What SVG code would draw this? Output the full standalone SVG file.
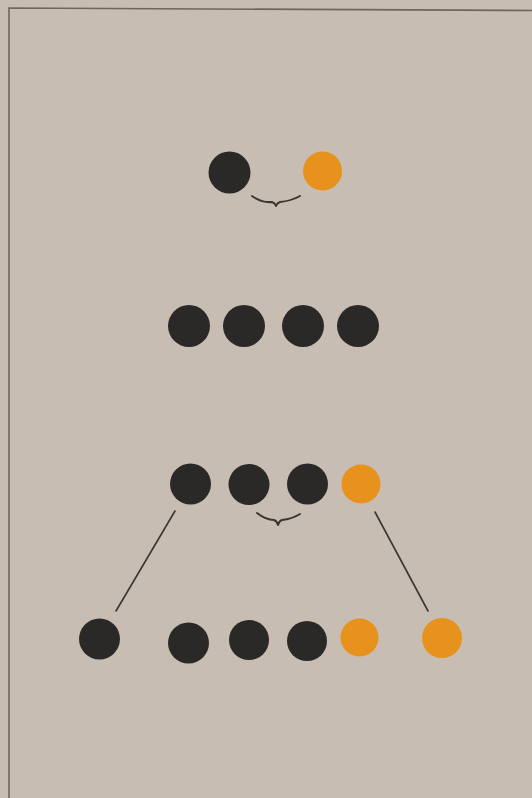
<svg xmlns="http://www.w3.org/2000/svg" width="532" height="798" viewBox="0 0 532 798">
  <style>
    .blk { fill: #2b2927; }
    .org { fill: #e8921e; }
    .ln { stroke: #3a3632; stroke-width: 1.6; fill: none; stroke-linecap: round; }
    .br { stroke: #3a3632; stroke-width: 2; fill: none; stroke-linecap: round; stroke-linejoin: round; }
    .frame { stroke: #6e665c; stroke-width: 1.6; fill: none; }
  </style>
  <rect x="0" y="0" width="532" height="798" fill="#c7bdb2"/>
  <path class="frame" d="M9,798 L9,8 L532,10.5"/>

  <g id="connectors">
    <path class="br" d="M252,196 Q262,203 272,202 Q275,203 276,206 Q277,203 280,202 Q291,201 300,196"/>
    <path class="br" d="M257,513 Q266,520 274,520 Q277,521 278,525 Q279,521 282,520 Q292,519 300,514"/>
    <line class="ln" x1="175" y1="511" x2="116" y2="611"/>
    <line class="ln" x1="375" y1="512" x2="428" y2="611"/>
  </g>

  <g id="n1"><circle class="blk" cx="229.5" cy="172.5" r="21"/></g>
  <g id="n2"><circle class="org" cx="322.5" cy="171" r="19.5"/></g>

  <g id="n3"><circle class="blk" cx="189" cy="326" r="21"/></g>
  <g id="n4"><circle class="blk" cx="244" cy="326" r="21"/></g>
  <g id="n5"><circle class="blk" cx="303" cy="326" r="21"/></g>
  <g id="n6"><circle class="blk" cx="358" cy="326" r="21"/></g>

  <g id="n7"><circle class="blk" cx="190.5" cy="484" r="20.5"/></g>
  <g id="n8"><circle class="blk" cx="249" cy="484.5" r="20.5"/></g>
  <g id="n9"><circle class="blk" cx="307.5" cy="484" r="20.5"/></g>
  <g id="n10"><circle class="org" cx="361" cy="484" r="19.5"/></g>

  <g id="n11"><circle class="blk" cx="99.5" cy="639" r="20.5"/></g>
  <g id="n12"><circle class="blk" cx="188.5" cy="643" r="20.5"/></g>
  <g id="n13"><circle class="blk" cx="249" cy="640" r="20"/></g>
  <g id="n14"><circle class="blk" cx="307" cy="641" r="20"/></g>
  <g id="n15"><circle class="org" cx="359.5" cy="637.5" r="19"/></g>
  <g id="n16"><circle class="org" cx="442" cy="638" r="20"/></g>
</svg>
